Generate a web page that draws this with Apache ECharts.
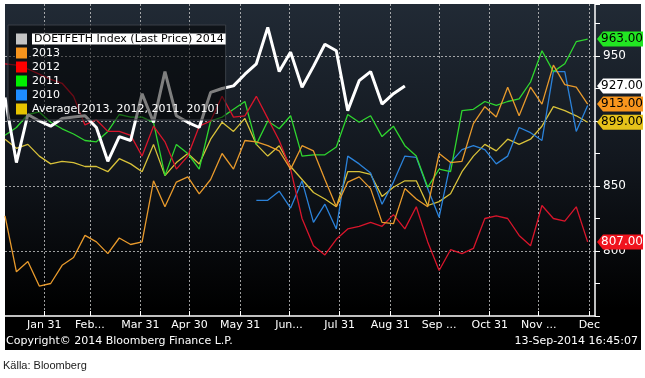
<!DOCTYPE html>
<html>
<head>
<meta charset="utf-8">
<script src="https://cdn.jsdelivr.net/npm/echarts@6/dist/echarts.min.js"></script>
<style>
  html, body { margin: 0; padding: 0; background: #fff; }
  #chart { width: 645px; height: 378px; }
</style>
</head>
<body>
<div id="chart"></div>
<script>
// weekly points, x = day of year (Jan 1 = 0)
const startDay = 6
const monthEnds = [30, 58, 89, 119, 150, 180, 211, 242, 272, 303, 333, 364]
const monthLabels = ['Jan 31', 'Feb...', 'Mar 31', 'Apr 30', 'May 31', 'Jun...', 'Jul 31', 'Aug 31', 'Sep ...', 'Oct 31', 'Nov ...', 'Dec']

const name2014 = 'DOETFETH Index (Last Price) 2014'
const nameAvg = 'Average[2013, 2012, 2011, 2010]'

const v2014 = [918, 868, 905, 900, 896, 902, 903, 904, 895, 869, 888, 885, 921, 899, 938, 904, 899, 895, 922, 925,
  927, 936, 944, 972, 938, 953, 926, 942, 959, 954, 908, 931, 938, 913, 921, 927]
const v2013 = [827, 784, 792, 773, 775, 789, 795, 812, 807, 798, 810, 805, 807, 854, 834, 853, 857, 844, 855, 875,
  863, 885, 884, 881, 877, 863, 881, 877, 855, 834, 853, 857, 848, 822, 821, 848, 840, 834, 875, 868,
  869, 898, 911, 903, 926, 904, 926, 913, 943, 928, 926, 913]
const v2012 = [944, 943, 940, 936, 932, 929, 919, 897, 901, 892, 892, 889, 873, 896, 884, 863, 873, 896, 900, 919,
  903, 904, 919, 902, 885, 863, 825, 804, 797, 809, 817, 819, 822, 819, 828, 817, 834, 807, 785, 801,
  798, 802, 825, 827, 825, 812, 804, 835, 825, 823, 834, 807]
const v2011 = [889, 895, 905, 907, 899, 894, 890, 885, 884, 892, 905, 903, 903, 899, 858, 882, 875, 863, 900, 903,
  909, 915, 882, 900, 894, 904, 873, 874, 874, 880, 905, 899, 904, 888, 896, 881, 873, 849, 863, 861,
  908, 909, 915, 912, 915, 917, 930, 954, 938, 944, 961, 963]
const v2010 = [null, null, null, null, null, null, null, null, null, null, null, null, null, null, null, null, null, null, null, null,
  null, null, 839, 839, 846, 833, 854, 822, 836, 817, 873, 867, 860, 836, 853, 873, 872, 848, 826, 868,
  878, 881, 878, 867, 873, 895, 891, 885, 938, 938, 892, 912]
const vAvg = [886, 879, 882, 873, 867, 869, 868, 865, 865, 861, 871, 867, 861, 882, 858, 868, 875, 867, 886, 899,
  892, 902, 882, 873, 881, 865, 855, 845, 840, 834, 861, 861, 859, 842, 849, 854, 854, 835, 838, 844,
  861, 873, 882, 877, 886, 882, 886, 896, 911, 908, 904, 899]

const X_MIN = 6
const X_MAX = 367.5
const FONT = 'DejaVu Sans'

const toPoints = arr => arr.map((v, i) => [startDay + 7 * i, v]).filter(p => p[1] != null)
const last = arr => arr[arr.length - 1]

const tag = (value, fill, textColor) => ({
  silent: true,
  symbol: 'path://M0,7 L6,0 L46,0 L46,14 L6,14 Z',
  symbolSize: [46, 15],
  symbolOffset: [25, 0],
  symbolKeepAspect: false,
  itemStyle: { color: fill },
  label: {
    show: true,
    position: 'inside',
    offset: [2, 0],
    color: textColor,
    fontSize: 12,
    fontFamily: FONT,
    formatter: () => value.toFixed(2),
  },
  data: [{ coord: [X_MAX, value], value: value }],
})

const line = (name, data, color, width, extra) => Object.assign({
  name: name,
  type: 'line',
  data: toPoints(data),
  showSymbol: false,
  symbol: 'none',
  lineStyle: { color: color, width: width },
  itemStyle: { color: color },
  emphasis: { disabled: true },
}, extra || {})

const chart = echarts.init(document.getElementById('chart'))
chart.setOption({
  backgroundColor: '#fff',
  animation: false,
  graphic: [
    {
      type: 'rect',
      z: -10,
      shape: { x: 5, y: 4, width: 636, height: 346 },
      style: {
        fill: new echarts.graphic.LinearGradient(0, 0, 0, 1, [
          { offset: 0, color: '#212a35' },
          { offset: 0.45, color: '#12171e' },
          { offset: 0.88, color: '#000' },
          { offset: 1, color: '#000' },
        ]),
      },
    },
    {
      type: 'text',
      style: { text: 'Copyright\u00a9 2014 Bloomberg Finance L.P.', x: 6, y: 341, fill: '#fff', font: '11px ' + FONT, verticalAlign: 'middle' },
    },
    {
      type: 'text',
      style: { text: '13-Sep-2014 16:45:07', x: 638, y: 341, fill: '#fff', font: '11px ' + FONT, align: 'right', verticalAlign: 'middle' },
    },
    {
      type: 'text',
      style: { text: 'Källa: Bloomberg', x: 3, y: 366, fill: '#1a1a1a', font: '11px "Liberation Sans"', verticalAlign: 'middle' },
    },
  ],
  grid: { left: 5, right: 50, top: 4, bottom: 62 },
  legend: {
    z: 20,
    orient: 'vertical',
    left: 8,
    top: 25,
    padding: [7, 0, 4, 8],
    itemGap: 0,
    itemWidth: 11,
    itemHeight: 11,
    itemTextGap: 3,
    icon: 'rect',
    selectedMode: false,
    backgroundColor: 'rgba(0,0,0,0.5)',
    borderColor: '#3a3f46',
    borderWidth: 1,
    textStyle: {
      color: '#fff',
      fontSize: 11,
      fontFamily: FONT,
      lineHeight: 14,
      rich: {
        hl: { backgroundColor: '#fff', color: '#000', fontSize: 11, fontFamily: FONT, lineHeight: 14, padding: [0, 2] },
      },
    },
    formatter: name => (name === name2014 ? '{hl|' + name + '}' : name),
    data: [
      { name: name2014, itemStyle: { color: '#c4c4c4' } },
      { name: '2013', itemStyle: { color: '#f7951d' } },
      { name: '2012', itemStyle: { color: '#ff0000' } },
      { name: '2011', itemStyle: { color: '#00f000' } },
      { name: '2010', itemStyle: { color: '#1e8cff' } },
      { name: nameAvg, itemStyle: { color: '#e6c200' } },
    ],
  },
  xAxis: {
    type: 'value',
    min: X_MIN,
    max: X_MAX,
    axisLine: { show: true, lineStyle: { color: '#fff', width: 1.5 } },
    axisTick: { show: true, inside: true, length: 5, customValues: monthEnds, lineStyle: { color: '#fff' } },
    axisLabel: {
      customValues: monthEnds,
      color: '#fff',
      fontSize: 11,
      fontFamily: FONT,
      margin: 4,
      formatter: v => monthLabels[monthEnds.indexOf(v)] || '',
    },
    splitLine: { show: true, lineStyle: { color: 'rgba(210,210,210,0.75)', type: [2, 2], width: 1 } },
  },
  yAxis: [
    {
      type: 'value',
      position: 'right',
      min: 750,
      max: 990,
      interval: 25,
      axisLine: { show: true, lineStyle: { color: '#fff', width: 1.5 } },
      axisTick: { show: true, length: 5, lineStyle: { color: '#fff' } },
      axisLabel: {
        color: '#fff',
        fontSize: 12,
        fontFamily: FONT,
        margin: 8,
        formatter: v => (v % 50 === 0 && v > 750 && v !== 900 ? String(v) : ''),
      },
      splitLine: { show: false },
    },
    {
      type: 'value',
      position: 'left',
      min: 750,
      max: 990,
      interval: 50,
      axisLine: { show: false },
      axisTick: { show: false },
      axisLabel: { show: false },
      splitLine: { show: true, showMinLine: false, showMaxLine: false, lineStyle: { color: 'rgba(210,210,210,0.75)', type: [2, 2], width: 1 } },
    },
  ],
  series: [
    line(nameAvg, vAvg, '#d9c23a', 1.3, { markPoint: tag(last(vAvg), '#e6c21a', '#000') }),
    line('2010', v2010, '#2b82d9', 1.3),
    line('2011', v2011, '#2fd62f', 1.3, { markPoint: tag(last(v2011), '#22e622', '#000') }),
    line('2012', v2012, '#d8152b', 1.3, { markPoint: tag(last(v2012), '#f0141e', '#fff') }),
    line('2013', v2013, '#e89a2c', 1.3, { markPoint: tag(last(v2013), '#f7951d', '#000') }),
    line(name2014, v2014, '#ffffff', 3, { z: 3, markPoint: tag(last(v2014), '#ffffff', '#000') }),
  ],
})
</script>
</body>
</html>
